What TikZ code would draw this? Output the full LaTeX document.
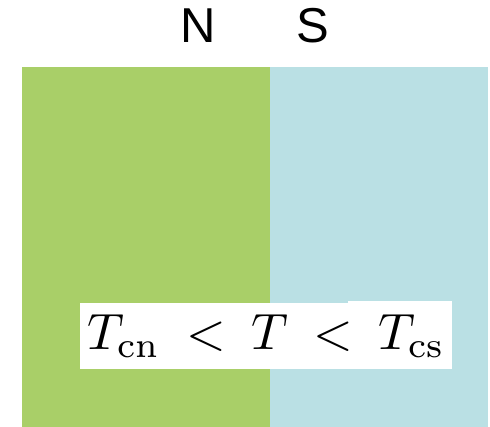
\RequirePackage{fix-cm}
\documentclass[tikz,border=0pt]{standalone}
\usepackage{graphicx}
\usepackage{fontspec}
\newfontfamily\arialf{Liberation Sans}
\definecolor{ngreen}{RGB}{169,207,104}
\definecolor{sblue}{RGB}{186,224,228}
\tikzset{
  pole/.style={font=\arialf\fontsize{49}{49}\selectfont, inner sep=0pt, anchor=base},
  formula/.style={inner sep=0pt, anchor=base}
}
\begin{document}
\begin{tikzpicture}[x=1pt,y=-1pt]
\useasboundingbox (0,0) rectangle (490,427);
\fill[ngreen] (22,67) rectangle (270,427);
\fill[sblue] (270,67) rectangle (488,427);
\fill[white] (80,303) rectangle (348,369);
\fill[white] (348,301) rectangle (452,369);
\node[pole] (N) at (198,43) {N};
\node[pole] (S) at (312.5,43) {S};
\node[formula] (F) at (266.5,350) {\scalebox{5.1}{$T_{\mathrm{cn}}\mskip4mu < \mskip4mu T\mskip4mu < \mskip4mu T_{\mathrm{cs}}$}};
\end{tikzpicture}
\end{document}
